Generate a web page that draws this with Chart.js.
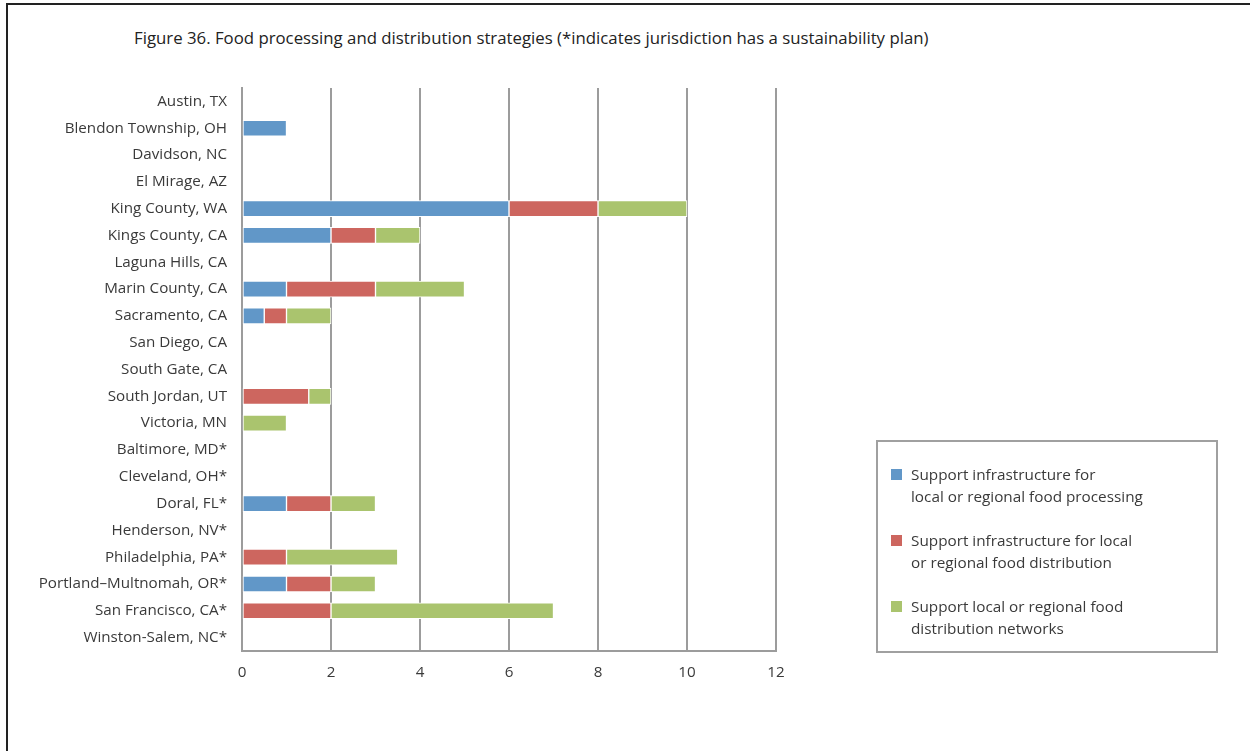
<!DOCTYPE html>
<html lang="en">
<head>
    <meta charset="UTF-8">
    <title>Figure 36</title>
    <script src="https://cdn.jsdelivr.net/npm/chart.js"></script>
    <style>
        body {
            margin: 0;
            background: #fff;
            font-family: "Open Sans", Arial, sans-serif;
        }

        .page {
            position: relative;
            width: 1250px;
            height: 751px;
            overflow: hidden;
        }

        /* thin frame, only top and left are visible in the original */
        .frame {
            position: absolute;
            left: 6px;
            top: 3px;
            width: 1300px;
            height: 800px;
            border-left: 2px solid #222;
            border-top: 2px solid #222;
        }

        .title {
            position: absolute;
            left: 134px;
            top: 26px;
            font-size: 16.8px;
            line-height: 24px;
            color: #222;
            white-space: nowrap;
        }

        .chart-box {
            position: absolute;
            left: 0;
            top: 0;
            width: 1070px;
            height: 751px;
        }

        /* Legend box */
        .legend {
            position: absolute;
            left: 876px;
            top: 440px;
            width: 338px;
            height: 209px;
            border: 2px solid #a0a0a0;
            color: #3a3a3a;
            font-size: 15.3px;
            line-height: 22px;
        }

        .legend .item {
            position: absolute;
            left: 33px;
        }

        .legend .swatch {
            position: absolute;
            left: -20px;
            top: 6px;
            width: 11px;
            height: 11px;
        }
    </style>
</head>
<body>
<div class="page">
    <div class="frame"></div>
    <div class="title">Figure 36. Food processing and distribution strategies (*indicates jurisdiction has a sustainability plan)</div>
    <div class="chart-box">
        <canvas id="foodChart"></canvas>
    </div>
    <div class="legend" id="legend"></div>
</div>

<script>
    const places = [
        'Austin, TX', 'Blendon Township, OH', 'Davidson, NC', 'El Mirage, AZ',
        'King County, WA', 'Kings County, CA', 'Laguna Hills, CA', 'Marin County, CA',
        'Sacramento, CA', 'San Diego, CA', 'South Gate, CA', 'South Jordan, UT',
        'Victoria, MN', 'Baltimore, MD*', 'Cleveland, OH*', 'Doral, FL*',
        'Henderson, NV*', 'Philadelphia, PA*', 'Portland\u2013Multnomah, OR*',
        'San Francisco, CA*', 'Winston-Salem, NC*'
    ];

    const processing   = [0, 1, 0, 0, 6, 2, 0, 1, 0.5, 0, 0, 0,   0, 0, 0, 1, 0, 0, 1, 0, 0];
    const distribution = [0, 0, 0, 0, 2, 1, 0, 2, 0.5, 0, 0, 1.5, 0, 0, 0, 1, 0, 1, 1, 2, 0];
    const networks     = [0, 0, 0, 0, 2, 1, 0, 2, 1,   0, 0, 0.5, 1, 0, 0, 1, 0, 2.5, 1, 5, 0];

    const seriesNames = [
        ['Support infrastructure for', 'local or regional food processing'],
        ['Support infrastructure for local', 'or regional food distribution'],
        ['Support local or regional food', 'distribution networks']
    ];
    const seriesColors = ['#6197c8', '#cd665f', '#aac46e'];

    const xTicks = [0, 2, 4, 6, 8, 10, 12];

    const textColor = '#3a3a3a';
    const gridColor = '#9c9c9c';
    const tickFont = { family: '"Open Sans", Arial, sans-serif', size: 15.2 };

    function makeSet(i, values) {
        return {
            label: seriesNames[i].join(' '),
            data: values,
            backgroundColor: seriesColors[i],
            borderColor: '#ffffff',
            borderWidth: 1,
            borderSkipped: false,
            barThickness: 16
        };
    }

    const ctx = document.getElementById('foodChart').getContext('2d');

    new Chart(ctx, {
        type: 'bar',
        data: {
            labels: places,
            datasets: [
                makeSet(0, processing),
                makeSet(1, distribution),
                makeSet(2, networks)
            ]
        },
        options: {
            indexAxis: 'y',
            responsive: true,
            maintainAspectRatio: false,
            animation: false,
            layout: {
                padding: { left: 0, right: 294, top: 88, bottom: 0 }
            },
            plugins: {
                legend: { display: false },
                tooltip: { enabled: false }
            },
            scales: {
                x: {
                    stacked: true,
                    min: 0,
                    max: 12,
                    afterBuildTicks: (scale) => {
                        scale.ticks = xTicks.map(v => ({ value: v }));
                    },
                    afterFit: (scale) => {
                        scale.height = 100;
                    },
                    grid: {
                        color: gridColor,
                        lineWidth: 2,
                        drawTicks: false
                    },
                    border: { color: gridColor, width: 2 },
                    ticks: {
                        color: textColor,
                        padding: 13,
                        font: tickFont
                    }
                },
                y: {
                    stacked: true,
                    afterFit: (scale) => {
                        scale.width = 242;
                    },
                    grid: { display: false, drawTicks: false },
                    border: { color: gridColor, width: 2 },
                    ticks: {
                        color: textColor,
                        padding: 15,
                        autoSkip: false,
                        font: tickFont
                    }
                }
            }
        }
    });

    // legend built as plain html, because the labels wrap onto two lines
    const legend = document.getElementById('legend');
    seriesNames.forEach((lines, i) => {
        const item = document.createElement('div');
        item.className = 'item';
        item.style.top = (21 + i * 66) + 'px';
        item.innerHTML = '<span class="swatch" style="background:' + seriesColors[i] + '"></span>' + lines.join('<br>');
        legend.appendChild(item);
    });
</script>
</body>
</html>
